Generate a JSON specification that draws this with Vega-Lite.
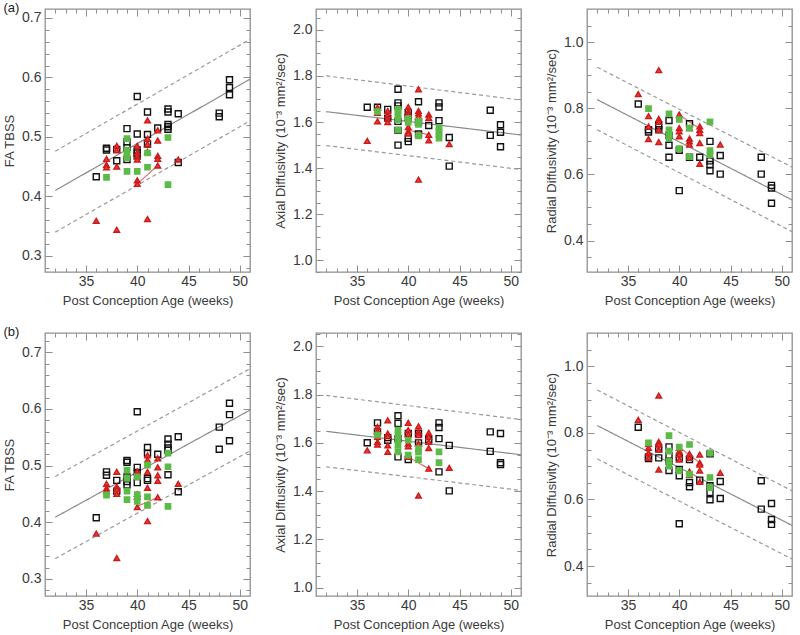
{
"$schema": "https://vega.github.io/schema/vega-lite/v6.json",
"background": "white",
"padding": {"left": 2, "top": 0, "right": 0, "bottom": 0},
"datasets": {
"pts": [
{"p":"FAa","g":"c","x":36,"y":0.433},{"p":"FAa","g":"c","x":37,"y":0.481},{"p":"FAa","g":"c","x":37,"y":0.478},{"p":"FAa","g":"c","x":38,"y":0.479},{"p":"FAa","g":"c","x":38,"y":0.46},
{"p":"FAa","g":"c","x":39,"y":0.514},{"p":"FAa","g":"c","x":39,"y":0.492},{"p":"FAa","g":"c","x":39,"y":0.482},{"p":"FAa","g":"c","x":39,"y":0.462},
{"p":"FAa","g":"c","x":40,"y":0.568},{"p":"FAa","g":"c","x":40,"y":0.505},{"p":"FAa","g":"c","x":40,"y":0.478},{"p":"FAa","g":"c","x":40,"y":0.473},{"p":"FAa","g":"c","x":40,"y":0.468},
{"p":"FAa","g":"c","x":41,"y":0.542},{"p":"FAa","g":"c","x":41,"y":0.504},{"p":"FAa","g":"c","x":41,"y":0.488},{"p":"FAa","g":"c","x":42,"y":0.515},
{"p":"FAa","g":"c","x":43,"y":0.547},{"p":"FAa","g":"c","x":43,"y":0.542},{"p":"FAa","g":"c","x":43,"y":0.521},{"p":"FAa","g":"c","x":43,"y":0.517},{"p":"FAa","g":"c","x":43,"y":0.513},
{"p":"FAa","g":"c","x":44,"y":0.539},{"p":"FAa","g":"c","x":44,"y":0.457},{"p":"FAa","g":"c","x":48,"y":0.54},{"p":"FAa","g":"c","x":48,"y":0.534},
{"p":"FAa","g":"c","x":49,"y":0.596},{"p":"FAa","g":"c","x":49,"y":0.583},{"p":"FAa","g":"c","x":49,"y":0.571},
{"p":"FAa","g":"r","x":36,"y":0.359},{"p":"FAa","g":"r","x":37,"y":0.463},{"p":"FAa","g":"r","x":37,"y":0.453},{"p":"FAa","g":"r","x":37,"y":0.449},
{"p":"FAa","g":"r","x":38,"y":0.485},{"p":"FAa","g":"r","x":38,"y":0.478},{"p":"FAa","g":"r","x":38,"y":0.45},{"p":"FAa","g":"r","x":38,"y":0.344},
{"p":"FAa","g":"r","x":40,"y":0.485},{"p":"FAa","g":"r","x":40,"y":0.474},{"p":"FAa","g":"r","x":40,"y":0.468},{"p":"FAa","g":"r","x":40,"y":0.462},{"p":"FAa","g":"r","x":40,"y":0.427},{"p":"FAa","g":"r","x":40,"y":0.421},
{"p":"FAa","g":"r","x":41,"y":0.528},{"p":"FAa","g":"r","x":41,"y":0.497},{"p":"FAa","g":"r","x":41,"y":0.488},{"p":"FAa","g":"r","x":41,"y":0.475},{"p":"FAa","g":"r","x":41,"y":0.362},
{"p":"FAa","g":"r","x":42,"y":0.511},{"p":"FAa","g":"r","x":42,"y":0.494},{"p":"FAa","g":"r","x":42,"y":0.468},{"p":"FAa","g":"r","x":42,"y":0.463},{"p":"FAa","g":"r","x":42,"y":0.452},{"p":"FAa","g":"r","x":44,"y":0.462},
{"p":"FAa","g":"g","x":37,"y":0.432},{"p":"FAa","g":"g","x":39,"y":0.497},{"p":"FAa","g":"g","x":39,"y":0.478},{"p":"FAa","g":"g","x":39,"y":0.47},{"p":"FAa","g":"g","x":39,"y":0.465},{"p":"FAa","g":"g","x":39,"y":0.442},
{"p":"FAa","g":"g","x":40,"y":0.442},{"p":"FAa","g":"g","x":41,"y":0.473},{"p":"FAa","g":"g","x":41,"y":0.449},{"p":"FAa","g":"g","x":43,"y":0.499},{"p":"FAa","g":"g","x":43,"y":0.42},

{"p":"ADa","g":"c","x":36,"y":1.664},{"p":"ADa","g":"c","x":37,"y":1.664},{"p":"ADa","g":"c","x":38,"y":1.655},{"p":"ADa","g":"c","x":38,"y":1.617},
{"p":"ADa","g":"c","x":39,"y":1.742},{"p":"ADa","g":"c","x":39,"y":1.683},{"p":"ADa","g":"c","x":39,"y":1.67},{"p":"ADa","g":"c","x":39,"y":1.603},{"p":"ADa","g":"c","x":39,"y":1.564},{"p":"ADa","g":"c","x":39,"y":1.5},
{"p":"ADa","g":"c","x":40,"y":1.642},{"p":"ADa","g":"c","x":40,"y":1.62},{"p":"ADa","g":"c","x":40,"y":1.53},{"p":"ADa","g":"c","x":40,"y":1.515},
{"p":"ADa","g":"c","x":41,"y":1.688},{"p":"ADa","g":"c","x":41,"y":1.6},{"p":"ADa","g":"c","x":41,"y":1.548},{"p":"ADa","g":"c","x":42,"y":1.585},
{"p":"ADa","g":"c","x":43,"y":1.683},{"p":"ADa","g":"c","x":43,"y":1.665},{"p":"ADa","g":"c","x":43,"y":1.606},{"p":"ADa","g":"c","x":44,"y":1.533},{"p":"ADa","g":"c","x":44,"y":1.409},
{"p":"ADa","g":"c","x":48,"y":1.651},{"p":"ADa","g":"c","x":48,"y":1.542},{"p":"ADa","g":"c","x":49,"y":1.588},{"p":"ADa","g":"c","x":49,"y":1.556},{"p":"ADa","g":"c","x":49,"y":1.493},
{"p":"ADa","g":"r","x":36,"y":1.518},{"p":"ADa","g":"r","x":37,"y":1.663},{"p":"ADa","g":"r","x":37,"y":1.64},{"p":"ADa","g":"r","x":37,"y":1.603},
{"p":"ADa","g":"r","x":38,"y":1.648},{"p":"ADa","g":"r","x":38,"y":1.63},{"p":"ADa","g":"r","x":38,"y":1.615},{"p":"ADa","g":"r","x":38,"y":1.6},
{"p":"ADa","g":"r","x":40,"y":1.665},{"p":"ADa","g":"r","x":40,"y":1.645},{"p":"ADa","g":"r","x":40,"y":1.632},{"p":"ADa","g":"r","x":40,"y":1.578},{"p":"ADa","g":"r","x":40,"y":1.56},{"p":"ADa","g":"r","x":40,"y":1.55},
{"p":"ADa","g":"r","x":41,"y":1.742},{"p":"ADa","g":"r","x":41,"y":1.648},{"p":"ADa","g":"r","x":41,"y":1.638},{"p":"ADa","g":"r","x":41,"y":1.625},{"p":"ADa","g":"r","x":41,"y":1.35},
{"p":"ADa","g":"r","x":42,"y":1.632},{"p":"ADa","g":"r","x":42,"y":1.618},{"p":"ADa","g":"r","x":42,"y":1.545},{"p":"ADa","g":"r","x":42,"y":1.521},{"p":"ADa","g":"r","x":44,"y":1.504},
{"p":"ADa","g":"g","x":37,"y":1.645},{"p":"ADa","g":"g","x":39,"y":1.655},{"p":"ADa","g":"g","x":39,"y":1.64},{"p":"ADa","g":"g","x":39,"y":1.625},{"p":"ADa","g":"g","x":39,"y":1.61},{"p":"ADa","g":"g","x":39,"y":1.565},
{"p":"ADa","g":"g","x":40,"y":1.615},{"p":"ADa","g":"g","x":40,"y":1.598},{"p":"ADa","g":"g","x":41,"y":1.604},{"p":"ADa","g":"g","x":41,"y":1.59},{"p":"ADa","g":"g","x":41,"y":1.54},
{"p":"ADa","g":"g","x":43,"y":1.575},{"p":"ADa","g":"g","x":43,"y":1.56},{"p":"ADa","g":"g","x":43,"y":1.545},{"p":"ADa","g":"g","x":43,"y":1.53},

{"p":"RDa","g":"c","x":36,"y":0.813},{"p":"RDa","g":"c","x":37,"y":0.735},{"p":"RDa","g":"c","x":37,"y":0.728},{"p":"RDa","g":"c","x":38,"y":0.748},{"p":"RDa","g":"c","x":38,"y":0.735},
{"p":"RDa","g":"c","x":39,"y":0.763},{"p":"RDa","g":"c","x":39,"y":0.718},{"p":"RDa","g":"c","x":39,"y":0.688},{"p":"RDa","g":"c","x":39,"y":0.652},
{"p":"RDa","g":"c","x":40,"y":0.673},{"p":"RDa","g":"c","x":40,"y":0.551},{"p":"RDa","g":"c","x":41,"y":0.753},{"p":"RDa","g":"c","x":41,"y":0.652},{"p":"RDa","g":"c","x":42,"y":0.652},
{"p":"RDa","g":"c","x":43,"y":0.7},{"p":"RDa","g":"c","x":43,"y":0.641},{"p":"RDa","g":"c","x":43,"y":0.63},{"p":"RDa","g":"c","x":43,"y":0.611},
{"p":"RDa","g":"c","x":44,"y":0.657},{"p":"RDa","g":"c","x":44,"y":0.601},{"p":"RDa","g":"c","x":48,"y":0.652},{"p":"RDa","g":"c","x":48,"y":0.601},
{"p":"RDa","g":"c","x":49,"y":0.567},{"p":"RDa","g":"c","x":49,"y":0.559},{"p":"RDa","g":"c","x":49,"y":0.513},
{"p":"RDa","g":"r","x":36,"y":0.843},{"p":"RDa","g":"r","x":37,"y":0.776},{"p":"RDa","g":"r","x":37,"y":0.745},{"p":"RDa","g":"r","x":37,"y":0.707},
{"p":"RDa","g":"r","x":38,"y":0.915},{"p":"RDa","g":"r","x":38,"y":0.768},{"p":"RDa","g":"r","x":38,"y":0.759},{"p":"RDa","g":"r","x":38,"y":0.735},{"p":"RDa","g":"r","x":38,"y":0.698},
{"p":"RDa","g":"r","x":40,"y":0.781},{"p":"RDa","g":"r","x":40,"y":0.74},{"p":"RDa","g":"r","x":40,"y":0.73},{"p":"RDa","g":"r","x":40,"y":0.715},
{"p":"RDa","g":"r","x":41,"y":0.74},{"p":"RDa","g":"r","x":41,"y":0.708},{"p":"RDa","g":"r","x":41,"y":0.7},{"p":"RDa","g":"r","x":41,"y":0.69},
{"p":"RDa","g":"r","x":42,"y":0.745},{"p":"RDa","g":"r","x":42,"y":0.735},{"p":"RDa","g":"r","x":42,"y":0.725},{"p":"RDa","g":"r","x":42,"y":0.695},{"p":"RDa","g":"r","x":42,"y":0.632},{"p":"RDa","g":"r","x":44,"y":0.69},
{"p":"RDa","g":"g","x":37,"y":0.799},{"p":"RDa","g":"g","x":39,"y":0.783},{"p":"RDa","g":"g","x":39,"y":0.735},{"p":"RDa","g":"g","x":39,"y":0.72},{"p":"RDa","g":"g","x":39,"y":0.71},
{"p":"RDa","g":"g","x":40,"y":0.766},{"p":"RDa","g":"g","x":40,"y":0.678},{"p":"RDa","g":"g","x":41,"y":0.74},{"p":"RDa","g":"g","x":41,"y":0.654},
{"p":"RDa","g":"g","x":43,"y":0.759},{"p":"RDa","g":"g","x":43,"y":0.672},{"p":"RDa","g":"g","x":43,"y":0.66},

{"p":"FAb","g":"c","x":36,"y":0.408},{"p":"FAb","g":"c","x":37,"y":0.489},{"p":"FAb","g":"c","x":37,"y":0.483},{"p":"FAb","g":"c","x":38,"y":0.474},{"p":"FAb","g":"c","x":38,"y":0.455},
{"p":"FAb","g":"c","x":39,"y":0.509},{"p":"FAb","g":"c","x":39,"y":0.506},{"p":"FAb","g":"c","x":39,"y":0.48},{"p":"FAb","g":"c","x":39,"y":0.472},{"p":"FAb","g":"c","x":39,"y":0.466},
{"p":"FAb","g":"c","x":40,"y":0.595},{"p":"FAb","g":"c","x":40,"y":0.497},{"p":"FAb","g":"c","x":40,"y":0.488},{"p":"FAb","g":"c","x":40,"y":0.47},
{"p":"FAb","g":"c","x":41,"y":0.532},{"p":"FAb","g":"c","x":41,"y":0.522},{"p":"FAb","g":"c","x":41,"y":0.477},{"p":"FAb","g":"c","x":41,"y":0.474},{"p":"FAb","g":"c","x":42,"y":0.52},
{"p":"FAb","g":"c","x":43,"y":0.547},{"p":"FAb","g":"c","x":43,"y":0.538},{"p":"FAb","g":"c","x":43,"y":0.531},{"p":"FAb","g":"c","x":43,"y":0.527},{"p":"FAb","g":"c","x":43,"y":0.484},
{"p":"FAb","g":"c","x":44,"y":0.551},{"p":"FAb","g":"c","x":44,"y":0.454},{"p":"FAb","g":"c","x":48,"y":0.568},{"p":"FAb","g":"c","x":48,"y":0.529},
{"p":"FAb","g":"c","x":49,"y":0.61},{"p":"FAb","g":"c","x":49,"y":0.59},{"p":"FAb","g":"c","x":49,"y":0.544},
{"p":"FAb","g":"r","x":36,"y":0.38},{"p":"FAb","g":"r","x":37,"y":0.468},{"p":"FAb","g":"r","x":37,"y":0.46},{"p":"FAb","g":"r","x":37,"y":0.455},
{"p":"FAb","g":"r","x":38,"y":0.489},{"p":"FAb","g":"r","x":38,"y":0.463},{"p":"FAb","g":"r","x":38,"y":0.458},{"p":"FAb","g":"r","x":38,"y":0.45},{"p":"FAb","g":"r","x":38,"y":0.337},
{"p":"FAb","g":"r","x":40,"y":0.49},{"p":"FAb","g":"r","x":40,"y":0.483},{"p":"FAb","g":"r","x":40,"y":0.45},{"p":"FAb","g":"r","x":40,"y":0.445},{"p":"FAb","g":"r","x":40,"y":0.427},
{"p":"FAb","g":"r","x":41,"y":0.518},{"p":"FAb","g":"r","x":41,"y":0.51},{"p":"FAb","g":"r","x":41,"y":0.489},{"p":"FAb","g":"r","x":41,"y":0.461},{"p":"FAb","g":"r","x":41,"y":0.402},
{"p":"FAb","g":"r","x":42,"y":0.513},{"p":"FAb","g":"r","x":42,"y":0.497},{"p":"FAb","g":"r","x":42,"y":0.483},{"p":"FAb","g":"r","x":42,"y":0.473},{"p":"FAb","g":"r","x":42,"y":0.444},{"p":"FAb","g":"r","x":44,"y":0.468},
{"p":"FAb","g":"g","x":37,"y":0.448},{"p":"FAb","g":"g","x":39,"y":0.492},{"p":"FAb","g":"g","x":39,"y":0.478},{"p":"FAb","g":"g","x":39,"y":0.455},{"p":"FAb","g":"g","x":39,"y":0.44},
{"p":"FAb","g":"g","x":40,"y":0.48},{"p":"FAb","g":"g","x":40,"y":0.449},{"p":"FAb","g":"g","x":40,"y":0.437},{"p":"FAb","g":"g","x":41,"y":0.501},{"p":"FAb","g":"g","x":41,"y":0.445},{"p":"FAb","g":"g","x":41,"y":0.43},
{"p":"FAb","g":"g","x":43,"y":0.522},{"p":"FAb","g":"g","x":43,"y":0.498},{"p":"FAb","g":"g","x":43,"y":0.428},

{"p":"ADb","g":"c","x":36,"y":1.601},{"p":"ADb","g":"c","x":37,"y":1.683},{"p":"ADb","g":"c","x":37,"y":1.646},{"p":"ADb","g":"c","x":38,"y":1.622},{"p":"ADb","g":"c","x":38,"y":1.611},
{"p":"ADb","g":"c","x":39,"y":1.713},{"p":"ADb","g":"c","x":39,"y":1.681},{"p":"ADb","g":"c","x":39,"y":1.618},{"p":"ADb","g":"c","x":39,"y":1.542},
{"p":"ADb","g":"c","x":40,"y":1.639},{"p":"ADb","g":"c","x":40,"y":1.531},{"p":"ADb","g":"c","x":41,"y":1.639},{"p":"ADb","g":"c","x":41,"y":1.6},{"p":"ADb","g":"c","x":42,"y":1.614},
{"p":"ADb","g":"c","x":43,"y":1.683},{"p":"ADb","g":"c","x":43,"y":1.664},{"p":"ADb","g":"c","x":43,"y":1.618},{"p":"ADb","g":"c","x":43,"y":1.48},
{"p":"ADb","g":"c","x":44,"y":1.59},{"p":"ADb","g":"c","x":44,"y":1.401},{"p":"ADb","g":"c","x":48,"y":1.646},{"p":"ADb","g":"c","x":48,"y":1.565},
{"p":"ADb","g":"c","x":49,"y":1.639},{"p":"ADb","g":"c","x":49,"y":1.518},{"p":"ADb","g":"c","x":49,"y":1.51},
{"p":"ADb","g":"r","x":36,"y":1.569},{"p":"ADb","g":"r","x":37,"y":1.667},{"p":"ADb","g":"r","x":37,"y":1.65},{"p":"ADb","g":"r","x":37,"y":1.625},{"p":"ADb","g":"r","x":37,"y":1.604},{"p":"ADb","g":"r","x":37,"y":1.593},
{"p":"ADb","g":"r","x":38,"y":1.694},{"p":"ADb","g":"r","x":38,"y":1.639},{"p":"ADb","g":"r","x":38,"y":1.628},{"p":"ADb","g":"r","x":38,"y":1.59},{"p":"ADb","g":"r","x":38,"y":1.563},
{"p":"ADb","g":"r","x":40,"y":1.683},{"p":"ADb","g":"r","x":40,"y":1.653},{"p":"ADb","g":"r","x":40,"y":1.636},{"p":"ADb","g":"r","x":40,"y":1.597},{"p":"ADb","g":"r","x":40,"y":1.586},{"p":"ADb","g":"r","x":40,"y":1.542},
{"p":"ADb","g":"r","x":41,"y":1.669},{"p":"ADb","g":"r","x":41,"y":1.646},{"p":"ADb","g":"r","x":41,"y":1.632},{"p":"ADb","g":"r","x":41,"y":1.597},{"p":"ADb","g":"r","x":41,"y":1.382},
{"p":"ADb","g":"r","x":42,"y":1.642},{"p":"ADb","g":"r","x":42,"y":1.625},{"p":"ADb","g":"r","x":42,"y":1.604},{"p":"ADb","g":"r","x":42,"y":1.579},{"p":"ADb","g":"r","x":42,"y":1.493},{"p":"ADb","g":"r","x":44,"y":1.497},
{"p":"ADb","g":"g","x":37,"y":1.632},{"p":"ADb","g":"g","x":39,"y":1.653},{"p":"ADb","g":"g","x":39,"y":1.632},{"p":"ADb","g":"g","x":39,"y":1.611},{"p":"ADb","g":"g","x":39,"y":1.59},{"p":"ADb","g":"g","x":39,"y":1.563},
{"p":"ADb","g":"g","x":40,"y":1.611},{"p":"ADb","g":"g","x":40,"y":1.549},{"p":"ADb","g":"g","x":41,"y":1.576},{"p":"ADb","g":"g","x":41,"y":1.562},{"p":"ADb","g":"g","x":41,"y":1.531},
{"p":"ADb","g":"g","x":43,"y":1.563},{"p":"ADb","g":"g","x":43,"y":1.518},

{"p":"RDb","g":"c","x":36,"y":0.817},{"p":"RDb","g":"c","x":37,"y":0.728},{"p":"RDb","g":"c","x":37,"y":0.723},{"p":"RDb","g":"c","x":38,"y":0.752},{"p":"RDb","g":"c","x":38,"y":0.725},
{"p":"RDb","g":"c","x":39,"y":0.758},{"p":"RDb","g":"c","x":39,"y":0.732},{"p":"RDb","g":"c","x":39,"y":0.715},{"p":"RDb","g":"c","x":39,"y":0.687},
{"p":"RDb","g":"c","x":40,"y":0.725},{"p":"RDb","g":"c","x":40,"y":0.69},{"p":"RDb","g":"c","x":40,"y":0.671},{"p":"RDb","g":"c","x":40,"y":0.527},
{"p":"RDb","g":"c","x":41,"y":0.72},{"p":"RDb","g":"c","x":41,"y":0.651},{"p":"RDb","g":"c","x":41,"y":0.638},{"p":"RDb","g":"c","x":42,"y":0.658},
{"p":"RDb","g":"c","x":43,"y":0.737},{"p":"RDb","g":"c","x":43,"y":0.641},{"p":"RDb","g":"c","x":43,"y":0.621},{"p":"RDb","g":"c","x":43,"y":0.599},
{"p":"RDb","g":"c","x":44,"y":0.654},{"p":"RDb","g":"c","x":44,"y":0.603},{"p":"RDb","g":"c","x":48,"y":0.656},{"p":"RDb","g":"c","x":48,"y":0.571},
{"p":"RDb","g":"c","x":49,"y":0.588},{"p":"RDb","g":"c","x":49,"y":0.54},{"p":"RDb","g":"c","x":49,"y":0.525},
{"p":"RDb","g":"r","x":36,"y":0.839},{"p":"RDb","g":"r","x":37,"y":0.767},{"p":"RDb","g":"r","x":37,"y":0.755},{"p":"RDb","g":"r","x":37,"y":0.74},{"p":"RDb","g":"r","x":37,"y":0.725},
{"p":"RDb","g":"r","x":38,"y":0.912},{"p":"RDb","g":"r","x":38,"y":0.773},{"p":"RDb","g":"r","x":38,"y":0.765},{"p":"RDb","g":"r","x":38,"y":0.75},{"p":"RDb","g":"r","x":38,"y":0.69},
{"p":"RDb","g":"r","x":40,"y":0.755},{"p":"RDb","g":"r","x":40,"y":0.745},{"p":"RDb","g":"r","x":40,"y":0.735},{"p":"RDb","g":"r","x":40,"y":0.72},
{"p":"RDb","g":"r","x":41,"y":0.737},{"p":"RDb","g":"r","x":41,"y":0.725},{"p":"RDb","g":"r","x":41,"y":0.684},{"p":"RDb","g":"r","x":41,"y":0.674},
{"p":"RDb","g":"r","x":42,"y":0.735},{"p":"RDb","g":"r","x":42,"y":0.71},{"p":"RDb","g":"r","x":42,"y":0.705},{"p":"RDb","g":"r","x":42,"y":0.687},{"p":"RDb","g":"r","x":42,"y":0.653},{"p":"RDb","g":"r","x":44,"y":0.68},
{"p":"RDb","g":"g","x":37,"y":0.77},{"p":"RDb","g":"g","x":39,"y":0.792},{"p":"RDb","g":"g","x":39,"y":0.745},{"p":"RDb","g":"g","x":39,"y":0.715},{"p":"RDb","g":"g","x":39,"y":0.7},
{"p":"RDb","g":"g","x":40,"y":0.757},{"p":"RDb","g":"g","x":40,"y":0.686},{"p":"RDb","g":"g","x":41,"y":0.765},{"p":"RDb","g":"g","x":41,"y":0.676},
{"p":"RDb","g":"g","x":43,"y":0.74},{"p":"RDb","g":"g","x":43,"y":0.666},{"p":"RDb","g":"g","x":43,"y":0.636}
],
"lines": [
{"p":"FAa","l":"fit","x":32,"y":0.41},{"p":"FAa","l":"fit","x":51,"y":0.597},{"p":"FAa","l":"upper","x":32,"y":0.476},{"p":"FAa","l":"upper","x":51,"y":0.664},{"p":"FAa","l":"lower","x":32,"y":0.34},{"p":"FAa","l":"lower","x":51,"y":0.527},{"p":"FAa","l":"sub","x":40,"y":0.421},{"p":"FAa","l":"sub","x":42,"y":0.452},
{"p":"ADa","l":"fit","x":32,"y":1.645},{"p":"ADa","l":"fit","x":51,"y":1.544},{"p":"ADa","l":"upper","x":32,"y":1.8},{"p":"ADa","l":"upper","x":51,"y":1.695},{"p":"ADa","l":"lower","x":32,"y":1.498},{"p":"ADa","l":"lower","x":51,"y":1.394},{"p":"ADa","l":"sub","x":40,"y":1.565},{"p":"ADa","l":"sub","x":42,"y":1.545},
{"p":"RDa","l":"fit","x":32,"y":0.826},{"p":"RDa","l":"fit","x":51,"y":0.523},{"p":"RDa","l":"upper","x":32,"y":0.924},{"p":"RDa","l":"upper","x":51,"y":0.622},{"p":"RDa","l":"lower","x":32,"y":0.735},{"p":"RDa","l":"lower","x":51,"y":0.427},{"p":"RDa","l":"sub","x":40,"y":0.78},{"p":"RDa","l":"sub","x":42,"y":0.738},
{"p":"FAb","l":"fit","x":32,"y":0.409},{"p":"FAb","l":"fit","x":51,"y":0.598},{"p":"FAb","l":"upper","x":32,"y":0.481},{"p":"FAb","l":"upper","x":51,"y":0.671},{"p":"FAb","l":"lower","x":32,"y":0.336},{"p":"FAb","l":"lower","x":51,"y":0.526},{"p":"FAb","l":"sub","x":40,"y":0.428},{"p":"FAb","l":"sub","x":42,"y":0.444},
{"p":"ADb","l":"fit","x":32,"y":1.648},{"p":"ADb","l":"fit","x":51,"y":1.551},{"p":"ADb","l":"upper","x":32,"y":1.797},{"p":"ADb","l":"upper","x":51,"y":1.697},{"p":"ADb","l":"lower","x":32,"y":1.501},{"p":"ADb","l":"lower","x":51,"y":1.403},{"p":"ADb","l":"sub","x":40,"y":1.542},{"p":"ADb","l":"sub","x":42,"y":1.493},
{"p":"RDb","l":"fit","x":32,"y":0.822},{"p":"RDb","l":"fit","x":51,"y":0.522},{"p":"RDb","l":"upper","x":32,"y":0.929},{"p":"RDb","l":"upper","x":51,"y":0.626},{"p":"RDb","l":"lower","x":32,"y":0.722},{"p":"RDb","l":"lower","x":51,"y":0.421},{"p":"RDb","l":"sub","x":40,"y":0.757},{"p":"RDb","l":"sub","x":42,"y":0.71}
]
},
"columns": 3,
"spacing": {"row": 61, "column": 66},
"bounds": "flush",
"concat": [
{
"width": 205, "height": 263,
"title": {"text": "(a)", "anchor": "start", "frame": "bounds", "offset": -6},
"layer": [
{
"encoding": {
"x": {"field": "x", "type": "quantitative", "scale": {"domain": [31, 51], "nice": false, "zero": false}, "axis": {"title": "Post Conception Age (weeks)", "values": [32,33,34,35,36,37,38,39,40,41,42,43,44,45,46,47,48,49,50], "labelExpr": "datum.value % 5 == 0 ? datum.label : ''", "tickSize": {"condition": {"test": "datum.value % 5 == 0", "value": -7}, "value": -4}}},
"y": {"field": "y", "type": "quantitative", "scale": {"domain": [0.273, 0.715], "nice": false, "zero": false}, "axis": {"title": "FA TBSS", "format": ".1f", "values": [0.28,0.3,0.32,0.34,0.36,0.38,0.4,0.42,0.44,0.46,0.48,0.5,0.52,0.54,0.56,0.58,0.6,0.62,0.64,0.66,0.68,0.7], "labelExpr": "abs(datum.value*10 - round(datum.value*10)) < 0.001 ? datum.label : ''", "tickSize": {"condition": {"test": "abs(datum.value*10 - round(datum.value*10)) < 0.001", "value": -7}, "value": -4}}}
},
"layer": [
{"data": {"name": "lines"}, "transform": [{"filter": "datum.p == 'FAa'"}], "mark": {"type": "line", "strokeWidth": 1.2, "clip": true}, "encoding": {"detail": {"field": "l"}, "color": {"field": "l", "type": "nominal", "scale": {"domain": ["fit","upper","lower","sub"], "range": ["#8a8a8a","#9a9a9a","#9a9a9a","#e07070"]}, "legend": null}, "strokeDash": {"field": "l", "type": "nominal", "scale": {"domain": ["fit","upper","lower","sub"], "range": [[1,0],[4,3],[4,3],[1,0]]}, "legend": null}}},
{"data": {"name": "pts"}, "transform": [{"filter": "datum.p == 'FAa'"}], "mark": {"type": "point", "filled": true, "strokeWidth": 1.4, "opacity": 1}, "encoding": {"shape": {"field": "g", "type": "nominal", "scale": {"domain": ["c","r","g"], "range": ["square","triangle-up","square"]}, "legend": null}, "fill": {"field": "g", "type": "nominal", "scale": {"domain": ["c","r","g"], "range": ["transparent","#ee3a3a","#5cbb48"]}, "legend": null}, "stroke": {"field": "g", "type": "nominal", "scale": {"domain": ["c","r","g"], "range": ["#111111","#cc1a1a","#5cbb48"]}, "legend": null}, "size": {"field": "g", "type": "nominal", "scale": {"domain": ["c","r","g"], "range": [36, 28, 38]}, "legend": null}}}
]
},
{"data": {"name": "lines"}, "transform": [{"filter": "datum.p == 'FAa'"}], "mark": {"type": "point", "opacity": 0}, "encoding": {
"x": {"field": "x", "type": "quantitative", "scale": {"domain": [31, 51], "nice": false, "zero": false}, "axis": {"orient": "top", "labels": false, "title": null, "values": [32,33,34,35,36,37,38,39,40,41,42,43,44,45,46,47,48,49,50], "tickSize": {"condition": {"test": "datum.value % 5 == 0", "value": -7}, "value": -4}}},
"y": {"field": "y", "type": "quantitative", "scale": {"domain": [0.273, 0.715], "nice": false, "zero": false}, "axis": {"orient": "right", "labels": false, "title": null, "values": [0.28,0.3,0.32,0.34,0.36,0.38,0.4,0.42,0.44,0.46,0.48,0.5,0.52,0.54,0.56,0.58,0.6,0.62,0.64,0.66,0.68,0.7], "tickSize": {"condition": {"test": "abs(datum.value*10 - round(datum.value*10)) < 0.001", "value": -7}, "value": -4}}}
}}
],
"resolve": {"scale": {"x": "independent", "y": "independent"}, "axis": {"x": "independent", "y": "independent"}}
},
{
"width": 205, "height": 263,
"layer": [
{
"encoding": {
"x": {"field": "x", "type": "quantitative", "scale": {"domain": [31, 51], "nice": false, "zero": false}, "axis": {"title": "Post Conception Age (weeks)", "values": [32,33,34,35,36,37,38,39,40,41,42,43,44,45,46,47,48,49,50], "labelExpr": "datum.value % 5 == 0 ? datum.label : ''", "tickSize": {"condition": {"test": "datum.value % 5 == 0", "value": -7}, "value": -4}}},
"y": {"field": "y", "type": "quantitative", "scale": {"domain": [0.95, 2.09], "nice": false, "zero": false}, "axis": {"title": "Axial Diffusivity (10⁻³ mm²/sec)", "format": ".1f", "values": [0.95,1.0,1.05,1.1,1.15,1.2,1.25,1.3,1.35,1.4,1.45,1.5,1.55,1.6,1.65,1.7,1.75,1.8,1.85,1.9,1.95,2.0,2.05], "labelExpr": "abs(datum.value*5 - round(datum.value*5)) < 0.001 ? datum.label : ''", "tickSize": {"condition": {"test": "abs(datum.value*5 - round(datum.value*5)) < 0.001", "value": -7}, "value": -4}}}
},
"layer": [
{"data": {"name": "lines"}, "transform": [{"filter": "datum.p == 'ADa'"}], "mark": {"type": "line", "strokeWidth": 1.2, "clip": true}, "encoding": {"detail": {"field": "l"}, "color": {"field": "l", "type": "nominal", "scale": {"domain": ["fit","upper","lower","sub"], "range": ["#8a8a8a","#9a9a9a","#9a9a9a","#e07070"]}, "legend": null}, "strokeDash": {"field": "l", "type": "nominal", "scale": {"domain": ["fit","upper","lower","sub"], "range": [[1,0],[4,3],[4,3],[1,0]]}, "legend": null}}},
{"data": {"name": "pts"}, "transform": [{"filter": "datum.p == 'ADa'"}], "mark": {"type": "point", "filled": true, "strokeWidth": 1.4, "opacity": 1}, "encoding": {"shape": {"field": "g", "type": "nominal", "scale": {"domain": ["c","r","g"], "range": ["square","triangle-up","square"]}, "legend": null}, "fill": {"field": "g", "type": "nominal", "scale": {"domain": ["c","r","g"], "range": ["transparent","#ee3a3a","#5cbb48"]}, "legend": null}, "stroke": {"field": "g", "type": "nominal", "scale": {"domain": ["c","r","g"], "range": ["#111111","#cc1a1a","#5cbb48"]}, "legend": null}, "size": {"field": "g", "type": "nominal", "scale": {"domain": ["c","r","g"], "range": [36, 28, 38]}, "legend": null}}}
]
},
{"data": {"name": "lines"}, "transform": [{"filter": "datum.p == 'ADa'"}], "mark": {"type": "point", "opacity": 0}, "encoding": {
"x": {"field": "x", "type": "quantitative", "scale": {"domain": [31, 51], "nice": false, "zero": false}, "axis": {"orient": "top", "labels": false, "title": null, "values": [32,33,34,35,36,37,38,39,40,41,42,43,44,45,46,47,48,49,50], "tickSize": {"condition": {"test": "datum.value % 5 == 0", "value": -7}, "value": -4}}},
"y": {"field": "y", "type": "quantitative", "scale": {"domain": [0.95, 2.09], "nice": false, "zero": false}, "axis": {"orient": "right", "labels": false, "title": null, "values": [0.95,1.0,1.05,1.1,1.15,1.2,1.25,1.3,1.35,1.4,1.45,1.5,1.55,1.6,1.65,1.7,1.75,1.8,1.85,1.9,1.95,2.0,2.05], "tickSize": {"condition": {"test": "abs(datum.value*5 - round(datum.value*5)) < 0.001", "value": -7}, "value": -4}}}
}}
],
"resolve": {"scale": {"x": "independent", "y": "independent"}, "axis": {"x": "independent", "y": "independent"}}
},
{
"width": 205, "height": 263,
"layer": [
{
"encoding": {
"x": {"field": "x", "type": "quantitative", "scale": {"domain": [31, 51], "nice": false, "zero": false}, "axis": {"title": "Post Conception Age (weeks)", "values": [32,33,34,35,36,37,38,39,40,41,42,43,44,45,46,47,48,49,50], "labelExpr": "datum.value % 5 == 0 ? datum.label : ''", "tickSize": {"condition": {"test": "datum.value % 5 == 0", "value": -7}, "value": -4}}},
"y": {"field": "y", "type": "quantitative", "scale": {"domain": [0.305, 1.1], "nice": false, "zero": false}, "axis": {"title": "Radial Diffusivity (10⁻³ mm²/sec)", "format": ".1f", "values": [0.35,0.4,0.45,0.5,0.55,0.6,0.65,0.7,0.75,0.8,0.85,0.9,0.95,1.0,1.05], "labelExpr": "abs(datum.value*5 - round(datum.value*5)) < 0.001 ? datum.label : ''", "tickSize": {"condition": {"test": "abs(datum.value*5 - round(datum.value*5)) < 0.001", "value": -7}, "value": -4}}}
},
"layer": [
{"data": {"name": "lines"}, "transform": [{"filter": "datum.p == 'RDa'"}], "mark": {"type": "line", "strokeWidth": 1.2, "clip": true}, "encoding": {"detail": {"field": "l"}, "color": {"field": "l", "type": "nominal", "scale": {"domain": ["fit","upper","lower","sub"], "range": ["#8a8a8a","#9a9a9a","#9a9a9a","#e07070"]}, "legend": null}, "strokeDash": {"field": "l", "type": "nominal", "scale": {"domain": ["fit","upper","lower","sub"], "range": [[1,0],[4,3],[4,3],[1,0]]}, "legend": null}}},
{"data": {"name": "pts"}, "transform": [{"filter": "datum.p == 'RDa'"}], "mark": {"type": "point", "filled": true, "strokeWidth": 1.4, "opacity": 1}, "encoding": {"shape": {"field": "g", "type": "nominal", "scale": {"domain": ["c","r","g"], "range": ["square","triangle-up","square"]}, "legend": null}, "fill": {"field": "g", "type": "nominal", "scale": {"domain": ["c","r","g"], "range": ["transparent","#ee3a3a","#5cbb48"]}, "legend": null}, "stroke": {"field": "g", "type": "nominal", "scale": {"domain": ["c","r","g"], "range": ["#111111","#cc1a1a","#5cbb48"]}, "legend": null}, "size": {"field": "g", "type": "nominal", "scale": {"domain": ["c","r","g"], "range": [36, 28, 38]}, "legend": null}}}
]
},
{"data": {"name": "lines"}, "transform": [{"filter": "datum.p == 'RDa'"}], "mark": {"type": "point", "opacity": 0}, "encoding": {
"x": {"field": "x", "type": "quantitative", "scale": {"domain": [31, 51], "nice": false, "zero": false}, "axis": {"orient": "top", "labels": false, "title": null, "values": [32,33,34,35,36,37,38,39,40,41,42,43,44,45,46,47,48,49,50], "tickSize": {"condition": {"test": "datum.value % 5 == 0", "value": -7}, "value": -4}}},
"y": {"field": "y", "type": "quantitative", "scale": {"domain": [0.305, 1.1], "nice": false, "zero": false}, "axis": {"orient": "right", "labels": false, "title": null, "values": [0.35,0.4,0.45,0.5,0.55,0.6,0.65,0.7,0.75,0.8,0.85,0.9,0.95,1.0,1.05], "tickSize": {"condition": {"test": "abs(datum.value*5 - round(datum.value*5)) < 0.001", "value": -7}, "value": -4}}}
}}
],
"resolve": {"scale": {"x": "independent", "y": "independent"}, "axis": {"x": "independent", "y": "independent"}}
},
{
"width": 205, "height": 263,
"title": {"text": "(b)", "anchor": "start", "frame": "bounds", "offset": -6},
"layer": [
{
"encoding": {
"x": {"field": "x", "type": "quantitative", "scale": {"domain": [31, 51], "nice": false, "zero": false}, "axis": {"title": "Post Conception Age (weeks)", "values": [32,33,34,35,36,37,38,39,40,41,42,43,44,45,46,47,48,49,50], "labelExpr": "datum.value % 5 == 0 ? datum.label : ''", "tickSize": {"condition": {"test": "datum.value % 5 == 0", "value": -7}, "value": -4}}},
"y": {"field": "y", "type": "quantitative", "scale": {"domain": [0.27, 0.734], "nice": false, "zero": false}, "axis": {"title": "FA TBSS", "format": ".1f", "values": [0.28,0.3,0.32,0.34,0.36,0.38,0.4,0.42,0.44,0.46,0.48,0.5,0.52,0.54,0.56,0.58,0.6,0.62,0.64,0.66,0.68,0.7,0.72], "labelExpr": "abs(datum.value*10 - round(datum.value*10)) < 0.001 ? datum.label : ''", "tickSize": {"condition": {"test": "abs(datum.value*10 - round(datum.value*10)) < 0.001", "value": -7}, "value": -4}}}
},
"layer": [
{"data": {"name": "lines"}, "transform": [{"filter": "datum.p == 'FAb'"}], "mark": {"type": "line", "strokeWidth": 1.2, "clip": true}, "encoding": {"detail": {"field": "l"}, "color": {"field": "l", "type": "nominal", "scale": {"domain": ["fit","upper","lower","sub"], "range": ["#8a8a8a","#9a9a9a","#9a9a9a","#e07070"]}, "legend": null}, "strokeDash": {"field": "l", "type": "nominal", "scale": {"domain": ["fit","upper","lower","sub"], "range": [[1,0],[4,3],[4,3],[1,0]]}, "legend": null}}},
{"data": {"name": "pts"}, "transform": [{"filter": "datum.p == 'FAb'"}], "mark": {"type": "point", "filled": true, "strokeWidth": 1.4, "opacity": 1}, "encoding": {"shape": {"field": "g", "type": "nominal", "scale": {"domain": ["c","r","g"], "range": ["square","triangle-up","square"]}, "legend": null}, "fill": {"field": "g", "type": "nominal", "scale": {"domain": ["c","r","g"], "range": ["transparent","#ee3a3a","#5cbb48"]}, "legend": null}, "stroke": {"field": "g", "type": "nominal", "scale": {"domain": ["c","r","g"], "range": ["#111111","#cc1a1a","#5cbb48"]}, "legend": null}, "size": {"field": "g", "type": "nominal", "scale": {"domain": ["c","r","g"], "range": [36, 28, 38]}, "legend": null}}}
]
},
{"data": {"name": "lines"}, "transform": [{"filter": "datum.p == 'FAb'"}], "mark": {"type": "point", "opacity": 0}, "encoding": {
"x": {"field": "x", "type": "quantitative", "scale": {"domain": [31, 51], "nice": false, "zero": false}, "axis": {"orient": "top", "labels": false, "title": null, "values": [32,33,34,35,36,37,38,39,40,41,42,43,44,45,46,47,48,49,50], "tickSize": {"condition": {"test": "datum.value % 5 == 0", "value": -7}, "value": -4}}},
"y": {"field": "y", "type": "quantitative", "scale": {"domain": [0.27, 0.734], "nice": false, "zero": false}, "axis": {"orient": "right", "labels": false, "title": null, "values": [0.28,0.3,0.32,0.34,0.36,0.38,0.4,0.42,0.44,0.46,0.48,0.5,0.52,0.54,0.56,0.58,0.6,0.62,0.64,0.66,0.68,0.7,0.72], "tickSize": {"condition": {"test": "abs(datum.value*10 - round(datum.value*10)) < 0.001", "value": -7}, "value": -4}}}
}}
],
"resolve": {"scale": {"x": "independent", "y": "independent"}, "axis": {"x": "independent", "y": "independent"}}
},
{
"width": 205, "height": 263,
"layer": [
{
"encoding": {
"x": {"field": "x", "type": "quantitative", "scale": {"domain": [31, 51], "nice": false, "zero": false}, "axis": {"title": "Post Conception Age (weeks)", "values": [32,33,34,35,36,37,38,39,40,41,42,43,44,45,46,47,48,49,50], "labelExpr": "datum.value % 5 == 0 ? datum.label : ''", "tickSize": {"condition": {"test": "datum.value % 5 == 0", "value": -7}, "value": -4}}},
"y": {"field": "y", "type": "quantitative", "scale": {"domain": [0.965, 2.056], "nice": false, "zero": false}, "axis": {"title": "Axial Diffusivity (10⁻³ mm²/sec)", "format": ".1f", "values": [1.0,1.05,1.1,1.15,1.2,1.25,1.3,1.35,1.4,1.45,1.5,1.55,1.6,1.65,1.7,1.75,1.8,1.85,1.9,1.95,2.0,2.05], "labelExpr": "abs(datum.value*5 - round(datum.value*5)) < 0.001 ? datum.label : ''", "tickSize": {"condition": {"test": "abs(datum.value*5 - round(datum.value*5)) < 0.001", "value": -7}, "value": -4}}}
},
"layer": [
{"data": {"name": "lines"}, "transform": [{"filter": "datum.p == 'ADb'"}], "mark": {"type": "line", "strokeWidth": 1.2, "clip": true}, "encoding": {"detail": {"field": "l"}, "color": {"field": "l", "type": "nominal", "scale": {"domain": ["fit","upper","lower","sub"], "range": ["#8a8a8a","#9a9a9a","#9a9a9a","#e07070"]}, "legend": null}, "strokeDash": {"field": "l", "type": "nominal", "scale": {"domain": ["fit","upper","lower","sub"], "range": [[1,0],[4,3],[4,3],[1,0]]}, "legend": null}}},
{"data": {"name": "pts"}, "transform": [{"filter": "datum.p == 'ADb'"}], "mark": {"type": "point", "filled": true, "strokeWidth": 1.4, "opacity": 1}, "encoding": {"shape": {"field": "g", "type": "nominal", "scale": {"domain": ["c","r","g"], "range": ["square","triangle-up","square"]}, "legend": null}, "fill": {"field": "g", "type": "nominal", "scale": {"domain": ["c","r","g"], "range": ["transparent","#ee3a3a","#5cbb48"]}, "legend": null}, "stroke": {"field": "g", "type": "nominal", "scale": {"domain": ["c","r","g"], "range": ["#111111","#cc1a1a","#5cbb48"]}, "legend": null}, "size": {"field": "g", "type": "nominal", "scale": {"domain": ["c","r","g"], "range": [36, 28, 38]}, "legend": null}}}
]
},
{"data": {"name": "lines"}, "transform": [{"filter": "datum.p == 'ADb'"}], "mark": {"type": "point", "opacity": 0}, "encoding": {
"x": {"field": "x", "type": "quantitative", "scale": {"domain": [31, 51], "nice": false, "zero": false}, "axis": {"orient": "top", "labels": false, "title": null, "values": [32,33,34,35,36,37,38,39,40,41,42,43,44,45,46,47,48,49,50], "tickSize": {"condition": {"test": "datum.value % 5 == 0", "value": -7}, "value": -4}}},
"y": {"field": "y", "type": "quantitative", "scale": {"domain": [0.965, 2.056], "nice": false, "zero": false}, "axis": {"orient": "right", "labels": false, "title": null, "values": [1.0,1.05,1.1,1.15,1.2,1.25,1.3,1.35,1.4,1.45,1.5,1.55,1.6,1.65,1.7,1.75,1.8,1.85,1.9,1.95,2.0,2.05], "tickSize": {"condition": {"test": "abs(datum.value*5 - round(datum.value*5)) < 0.001", "value": -7}, "value": -4}}}
}}
],
"resolve": {"scale": {"x": "independent", "y": "independent"}, "axis": {"x": "independent", "y": "independent"}}
},
{
"width": 205, "height": 263,
"layer": [
{
"encoding": {
"x": {"field": "x", "type": "quantitative", "scale": {"domain": [31, 51], "nice": false, "zero": false}, "axis": {"title": "Post Conception Age (weeks)", "values": [32,33,34,35,36,37,38,39,40,41,42,43,44,45,46,47,48,49,50], "labelExpr": "datum.value % 5 == 0 ? datum.label : ''", "tickSize": {"condition": {"test": "datum.value % 5 == 0", "value": -7}, "value": -4}}},
"y": {"field": "y", "type": "quantitative", "scale": {"domain": [0.31, 1.1], "nice": false, "zero": false}, "axis": {"title": "Radial Diffusivity (10⁻³ mm²/sec)", "format": ".1f", "values": [0.35,0.4,0.45,0.5,0.55,0.6,0.65,0.7,0.75,0.8,0.85,0.9,0.95,1.0,1.05], "labelExpr": "abs(datum.value*5 - round(datum.value*5)) < 0.001 ? datum.label : ''", "tickSize": {"condition": {"test": "abs(datum.value*5 - round(datum.value*5)) < 0.001", "value": -7}, "value": -4}}}
},
"layer": [
{"data": {"name": "lines"}, "transform": [{"filter": "datum.p == 'RDb'"}], "mark": {"type": "line", "strokeWidth": 1.2, "clip": true}, "encoding": {"detail": {"field": "l"}, "color": {"field": "l", "type": "nominal", "scale": {"domain": ["fit","upper","lower","sub"], "range": ["#8a8a8a","#9a9a9a","#9a9a9a","#e07070"]}, "legend": null}, "strokeDash": {"field": "l", "type": "nominal", "scale": {"domain": ["fit","upper","lower","sub"], "range": [[1,0],[4,3],[4,3],[1,0]]}, "legend": null}}},
{"data": {"name": "pts"}, "transform": [{"filter": "datum.p == 'RDb'"}], "mark": {"type": "point", "filled": true, "strokeWidth": 1.4, "opacity": 1}, "encoding": {"shape": {"field": "g", "type": "nominal", "scale": {"domain": ["c","r","g"], "range": ["square","triangle-up","square"]}, "legend": null}, "fill": {"field": "g", "type": "nominal", "scale": {"domain": ["c","r","g"], "range": ["transparent","#ee3a3a","#5cbb48"]}, "legend": null}, "stroke": {"field": "g", "type": "nominal", "scale": {"domain": ["c","r","g"], "range": ["#111111","#cc1a1a","#5cbb48"]}, "legend": null}, "size": {"field": "g", "type": "nominal", "scale": {"domain": ["c","r","g"], "range": [36, 28, 38]}, "legend": null}}}
]
},
{"data": {"name": "lines"}, "transform": [{"filter": "datum.p == 'RDb'"}], "mark": {"type": "point", "opacity": 0}, "encoding": {
"x": {"field": "x", "type": "quantitative", "scale": {"domain": [31, 51], "nice": false, "zero": false}, "axis": {"orient": "top", "labels": false, "title": null, "values": [32,33,34,35,36,37,38,39,40,41,42,43,44,45,46,47,48,49,50], "tickSize": {"condition": {"test": "datum.value % 5 == 0", "value": -7}, "value": -4}}},
"y": {"field": "y", "type": "quantitative", "scale": {"domain": [0.31, 1.1], "nice": false, "zero": false}, "axis": {"orient": "right", "labels": false, "title": null, "values": [0.35,0.4,0.45,0.5,0.55,0.6,0.65,0.7,0.75,0.8,0.85,0.9,0.95,1.0,1.05], "tickSize": {"condition": {"test": "abs(datum.value*5 - round(datum.value*5)) < 0.001", "value": -7}, "value": -4}}}
}}
],
"resolve": {"scale": {"x": "independent", "y": "independent"}, "axis": {"x": "independent", "y": "independent"}}
}
],
"config": {
"view": {"stroke": "#8f8f8f", "strokeWidth": 1.3},
"font": "Liberation Sans",
"axis": {"domain": false, "grid": false, "ticks": true, "tickColor": "#8f8f8f", "tickWidth": 1, "tickSize": -4, "labelFont": "Liberation Sans", "labelFontSize": 14, "labelColor": "#3a3a3a", "labelPadding": 11, "titleFont": "Liberation Sans", "titleFontSize": 13, "titleFontWeight": "normal", "titleColor": "#3a3a3a", "labelFlush": false, "labelOverlap": false},
"axisX": {"labelPadding": 9, "titlePadding": 3},
"axisY": {"titlePadding": 5},
"title": {"fontSize": 13, "fontWeight": "normal", "color": "#222222", "font": "Liberation Sans"}
}
}
